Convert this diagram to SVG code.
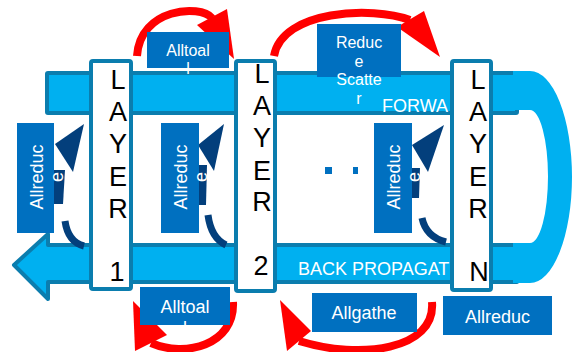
<svg xmlns="http://www.w3.org/2000/svg" width="572" height="352" viewBox="0 0 572 352">
<defs>
<style>
.bar{fill:#00B0F0;stroke:#0B7DAE;stroke-width:4;stroke-linejoin:round}
.layer{fill:#FFFFFF;stroke:#0B7DAE;stroke-width:4}
.lt{font-family:"Liberation Sans",Arial,sans-serif;font-size:27px;fill:#000000;text-anchor:middle}
.red{fill:none;stroke:#FF0000;stroke-width:8}
.redh{fill:#FF0000}
.navy{fill:none;stroke:#033F7C;stroke-width:7}
.navyf{fill:#033F7C}
.lbl{fill:#0070C0}
.wt{font-family:"Liberation Sans",Arial,sans-serif;font-size:18px;fill:#FFFFFF;text-anchor:middle}
.wt16{font-family:"Liberation Sans",Arial,sans-serif;font-size:16px;fill:#FFFFFF;text-anchor:middle}
.bt{font-family:"Liberation Sans",Arial,sans-serif;font-size:18px;fill:#FFFFFF}
</style>
</defs>
<g id="connectors">
<path class="red" d="M137 56 C140 8, 200 4, 212 18"/>
<polygon class="redh" points="227,9 197,25 234,59"/>
<path class="red" d="M274 56 C282 10, 372 6, 410 20"/>
<polygon class="redh" points="424,11 397,27 440,57"/>
<path class="red" d="M233 302 C235 345, 185 358, 151 343"/>
<polygon class="redh" points="133,301 135,351 167,335"/>
<path class="red" d="M432 302 C436 350, 360 360, 299 341"/>
<polygon class="redh" points="280,300 287,351 311,331"/>
</g>
<g id="bars">
<rect class="bar" x="47" y="73" width="470" height="40" rx="1"/>
<polygon class="bar" points="14,265 48,234 48,245 517,245 517,282 48,282 48,299"/>
<path fill="#00B0F0" d="M513 71 L530 71 A42 106 0 0 1 530 283 L513 283 L513 243 L530 243 A18 66.5 0 0 0 530 110 L513 110 Z"/>
<text class="bt" x="382" y="112" font-size="17.5">FORWA</text>
<text class="bt" x="298" y="275">BACK PROPAGAT</text>
</g>
<g id="loops">
<polygon class="navyf" points="84,124 55,144 73,172"/>
<polygon class="navyf" points="53,170 65,170 63,204 53,204"/>
<path class="navy" d="M65 221 Q68 242 84 246"/>
<polygon class="navyf" points="224,124 198,145 214,171"/>
<polygon class="navyf" points="197,165 207,165 206,205 197,205"/>
<path class="navy" d="M208 215 Q211 238 226 245"/>
<polygon class="navyf" points="444,125 412,145 428,172"/>
<polygon class="navyf" points="410,168 420,168 419,198 410,198"/>
<path class="navy" d="M422 218 Q426 237 446 242"/>
</g>
<g id="dots">
<rect class="lbl" x="325" y="167" width="7" height="7"/>
<rect class="lbl" x="353" y="167" width="5" height="7"/>
</g>
<g id="layer1">
<rect class="layer" x="91" y="61" width="40" height="228" rx="2"/>
<text class="lt" x="118"><tspan x="118" y="89">L</tspan><tspan x="118" y="121">A</tspan><tspan x="118" y="153">Y</tspan><tspan x="118" y="186">E</tspan><tspan x="118" y="218">R</tspan><tspan x="117" y="281">1</tspan></text>
</g>
<g id="layer2">
<rect class="layer" x="236" y="61" width="39" height="230" rx="2"/>
<text class="lt" x="262"><tspan x="262" y="83">L</tspan><tspan x="262" y="115">A</tspan><tspan x="262" y="147">Y</tspan><tspan x="262" y="180">E</tspan><tspan x="262" y="211">R</tspan><tspan x="261" y="275">2</tspan></text>
</g>
<g id="layerN">
<rect class="layer" x="452" y="61" width="39" height="229" rx="2"/>
<text class="lt" x="478"><tspan x="478" y="89">L</tspan><tspan x="478" y="121">A</tspan><tspan x="478" y="153">Y</tspan><tspan x="478" y="186">E</tspan><tspan x="478" y="218">R</tspan><tspan x="479" y="281">N</tspan></text>
</g>
<g id="allreduce1">
<rect class="lbl" x="17" y="123" width="37" height="110"/>
<text class="wt" transform="translate(43,177) rotate(-90)"><tspan x="0" y="0">Allreduc</tspan><tspan x="0" y="20">e</tspan></text>
</g>
<g id="allreduce2">
<rect class="lbl" x="161" y="123" width="38" height="110"/>
<text class="wt" transform="translate(187,177) rotate(-90)"><tspan x="0" y="0">Allreduc</tspan><tspan x="0" y="20">e</tspan></text>
</g>
<g id="allreduce3">
<rect class="lbl" x="374" y="123" width="38" height="110"/>
<text class="wt" transform="translate(400,177) rotate(-90)"><tspan x="0" y="0">Allreduc</tspan><tspan x="0" y="20">e</tspan></text>
</g>
<g id="alltoall-top">
<rect class="lbl" x="147" y="32" width="82" height="36"/>
<text class="wt16"><tspan x="188" y="56">Alltoal</tspan><tspan x="188" y="74">l</tspan></text>
</g>
<g id="reducescatter">
<rect class="lbl" x="317" y="24" width="84" height="53"/>
<text class="wt16"><tspan x="359" y="48">Reduc</tspan><tspan x="359" y="66.5">e</tspan><tspan x="359" y="85">Scatte</tspan><tspan x="359" y="103.5">r</tspan></text>
</g>
<g id="alltoall-bottom">
<rect class="lbl" x="140" y="287" width="90" height="38"/>
<text class="wt"><tspan x="185" y="313">Alltoal</tspan><tspan x="185" y="334">l</tspan></text>
</g>
<g id="allgather">
<rect class="lbl" x="312" y="293" width="105" height="39"/>
<text class="wt" x="364" y="319">Allgathe</text>
</g>
<g id="allreduce-bottom">
<rect class="lbl" x="443" y="296" width="109" height="39"/>
<text class="wt" x="497.5" y="323">Allreduc</text>
</g>
</svg>
